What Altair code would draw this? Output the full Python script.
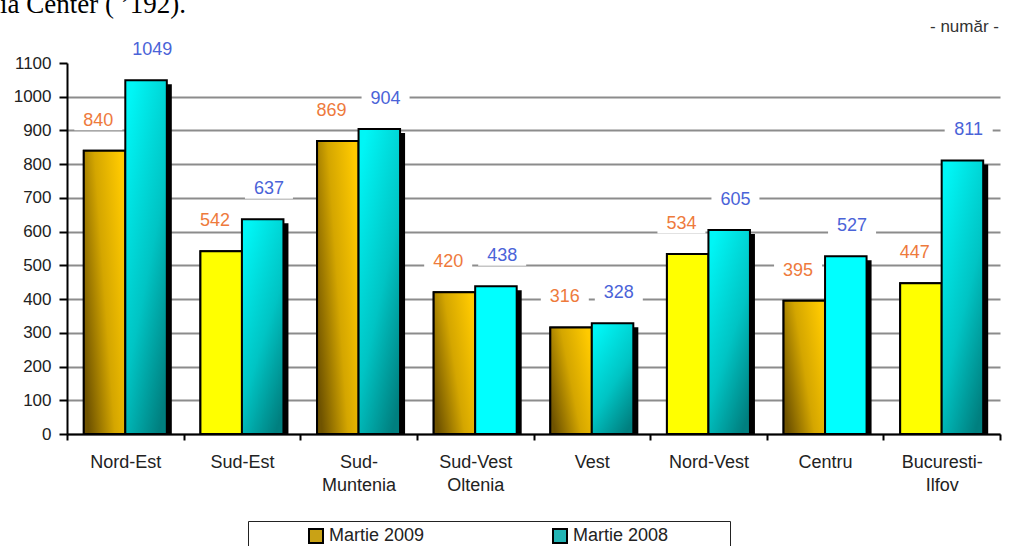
import altair as alt
import pandas as pd

# ---- data ----
regions = ["Nord-Est", "Sud-Est", "Sud-Muntenia", "Sud-Vest Oltenia",
           "Vest", "Nord-Vest", "Centru", "Bucuresti-Ilfov"]
v2009 = [840, 542, 869, 420, 316, 534, 395, 447]
v2008 = [1049, 637, 904, 438, 328, 605, 527, 811]
series = ["Martie  2009", "Martie 2008"]
y_ticks = [0, 100, 200, 300, 400, 500, 600, 700, 800, 900, 1000, 1100]
unit_label = ["- număr -"]
page_fragment = ["ia Center ( ’192)."]

# categories drawn with flat (non-gradient) fills in the reference
flat_2009 = ["Sud-Est", "Nord-Vest", "Bucuresti-Ilfov"]
flat_2008 = ["Sud-Vest Oltenia", "Centru"]

rows = []
for r, a, b in zip(regions, v2009, v2008):
    rows.append({"region": r, "series": series[0], "value": a})
    rows.append({"region": r, "series": series[1], "value": b})
df = pd.DataFrame(rows)

FONT = "Liberation Sans"
NBSP = "\u00a0"
ZW = "\u200b"

label_expr = (
    "datum.label == 'Sud-Muntenia' ? ['Sud-', 'Muntenia'] : "
    "datum.label == 'Sud-Vest Oltenia' ? ['Sud-Vest', 'Oltenia'] : "
    "datum.label == 'Bucuresti-Ilfov' ? ['Bucuresti-', 'Ilfov'] : datum.label"
)

X = alt.X(
    "region:N", sort=regions,
    scale=alt.Scale(paddingInner=0, paddingOuter=0),
    axis=alt.Axis(
        title=None, labelAngle=0, tickBand="extent", grid=False,
        domainColor="black", domainWidth=2, tickColor="black", tickWidth=2,
        tickSize=6, labelFont=FONT, labelFontSize=18, labelColor="#222222",
        labelPadding=13, labelLineHeight=23, labelExpr=label_expr,
    ),
)
Y = alt.Y(
    "value:Q", stack=None,
    scale=alt.Scale(domain=[0, 1100], nice=False),
    axis=alt.Axis(
        title=None, values=y_ticks, format="d", domainColor="black", domainWidth=2,
        tickColor="black", tickWidth=2, tickSize=8, labelFont=FONT,
        labelFontSize=17, labelColor="#222222", labelPadding=8,
        gridColor={"condition": {"test": "datum.value >= 1100", "value": "transparent"},
                   "value": "#8c8c8c"},
        gridWidth=2,
    ),
)

BW = alt.RelativeBandSize(0.356)
OFF = 20.75

gold = {"gradient": "linear", "x1": 0, "y1": 0.75, "x2": 1, "y2": 0.25,
        "stops": [{"offset": 0, "color": "#6f5300"},
                  {"offset": 0.5, "color": "#d4a600"},
                  {"offset": 1, "color": "#ffca00"}]}
teal = {"gradient": "linear", "x1": 0.2, "y1": 0, "x2": 0.8, "y2": 1,
        "stops": [{"offset": 0, "color": "#00f6f6"},
                  {"offset": 0.55, "color": "#00c4c4"},
                  {"offset": 1, "color": "#007f7f"}]}

base = alt.Chart(df)
s09 = alt.datum.series == series[0]
s08 = alt.datum.series == series[1]

shadow = base.transform_filter(s08).mark_bar(
    color="black", width=BW, xOffset=OFF + 5, yOffset=4, clip=True
).encode(x=X, y=Y)

legend_layer = base.transform_filter(s09).mark_bar(
    width=BW, xOffset=-OFF, stroke="black", strokeWidth=2
).encode(
    x=X, y=Y,
    color=alt.Color(
        "series:N",
        scale=alt.Scale(domain=series, range=["#c9a215", "#22b4b4"]),
        legend=alt.Legend(
            orient="none", legendX=181, legendY=458, direction="horizontal",
            title=ZW + NBSP * 8 + ZW, titleOrient="left", titleFontSize=18,
            titlePadding=12, titleFont=FONT,
            strokeColor="#222222", fillColor="white", padding=6,
            symbolType="square", symbolSize=196, symbolStrokeColor="black",
            symbolStrokeWidth=2, labelFont=FONT, labelFontSize=18,
            labelColor="#222222", labelOffset=4, columnPadding=119,
            labelLimit=400,
            labelExpr="datum.label == '" + series[1] + "' ? datum.label + '"
                      + NBSP * 11 + ZW + "' : datum.label",
        ),
    ),
)

test09 = "indexof(" + str(flat_2009) + ", datum.region) >= 0"
test08 = "indexof(" + str(flat_2008) + ", datum.region) >= 0"

bars09 = base.transform_filter(s09).mark_bar(
    width=BW, xOffset=-OFF, stroke="black", strokeWidth=2
).encode(
    x=X, y=Y,
    fill=alt.FillValue(gold, condition={"test": test09, "value": "#ffff00"}),
)
bars08 = base.transform_filter(s08).mark_bar(
    width=BW, xOffset=OFF, stroke="black", strokeWidth=2
).encode(
    x=X, y=Y,
    fill=alt.FillValue(teal, condition={"test": test08, "value": "#00ffff"}),
)

box_shape = "M-1,-0.4L1,-0.4L1,0.4L-1,0.4Z"
bg09 = base.transform_filter(s09).mark_point(
    shape=box_shape, size=2304, filled=True, color="white", opacity=1,
    xOffset=-27, yOffset=-30
).encode(x=X, y=Y)
bg08 = base.transform_filter(s08).mark_point(
    shape=box_shape, size=2304, filled=True, color="white", opacity=1,
    xOffset=27, yOffset=-30
).encode(x=X, y=Y)

txt09 = base.transform_filter(s09).mark_text(
    font=FONT, fontSize=18, color="#ee7a3c", xOffset=-27, yOffset=-30,
    baseline="middle", align="center"
).encode(x=X, y=Y, text="value:Q")
txt08 = base.transform_filter(s08).mark_text(
    font=FONT, fontSize=18, color="#4a63d8", xOffset=27, yOffset=-30,
    baseline="middle", align="center"
).encode(x=X, y=Y, text="value:Q")

fragment = alt.Chart(pd.DataFrame({"t": page_fragment})).mark_text(
    font="Liberation Serif", fontSize=27, align="left", baseline="alphabetic",
    color="black"
).encode(text="t:N", x=alt.value(-67), y=alt.value(-50))

unit = alt.Chart(pd.DataFrame({"t": unit_label})).mark_text(
    font=FONT, fontSize=17, align="right", baseline="middle", color="#333333"
).encode(text="t:N", x=alt.value(932), y=alt.value(-36))

chart = alt.layer(
    shadow, legend_layer, bars09, bars08, bg09, bg08, txt09, txt08, fragment, unit
).properties(
    width=933, height=371,
    padding={"left": 67, "top": 63, "right": 16, "bottom": 112},
    autosize=alt.AutoSizeParams(type="none"),
    background="white",
).configure_view(strokeWidth=0)

chart.save("out.html", embed_options={"renderer": "svg", "actions": False})
